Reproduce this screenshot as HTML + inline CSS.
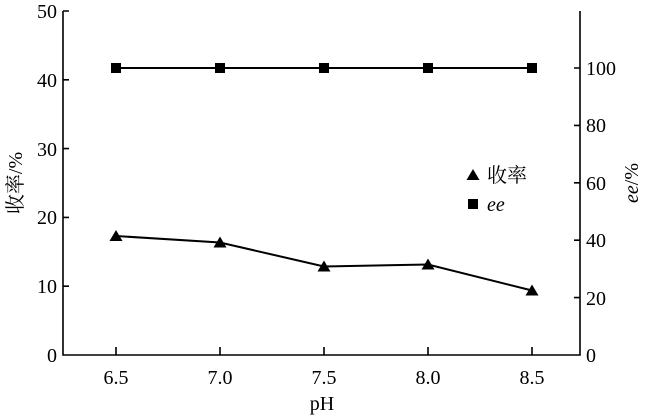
<!DOCTYPE html>
<html><head><meta charset="utf-8"><style>body{margin:0;background:#fff}svg text{font-family:"Liberation Serif","Noto Serif CJK SC",serif;font-size:20px}</style></head><body>
<svg width="650" height="415" xmlns="http://www.w3.org/2000/svg" fill="#000">
<rect width="650" height="415" fill="#fff"/>
<g stroke="#000" stroke-width="1.6" fill="none">
<polyline points="63,11 63,355 580,355 580,11"/>
<path d="M63,286.2h6M63,217.4h6M63,148.6h6M63,79.8h6M63,11h6"/>
<path d="M580,297.6h-6M580,240.2h-6M580,182.8h-6M580,125.4h-6M580,68h-6"/>
<path d="M116,355v-8M220,355v-8M324,355v-8M428,355v-8M532,355v-8"/>
<polyline stroke-width="2" points="116,68 220,68 324,68 428,68 532,68"/>
<polyline stroke-width="2" points="116,236 220,242.5 324,266.5 428,264.5 532,290.5"/>
</g>
<g>
<rect x="111" y="63" width="10" height="10"/><rect x="215" y="63" width="10" height="10"/><rect x="319" y="63" width="10" height="10"/><rect x="423" y="63" width="10" height="10"/><rect x="527" y="63" width="10" height="10"/>
<path d="M116,230l6.5,11h-13z"/><path d="M220,236.5l6.5,11h-13z"/><path d="M324,260.5l6.5,11h-13z"/><path d="M428,258.5l6.5,11h-13z"/><path d="M532,284.5l6.5,11h-13z"/>
<path d="M473,169l6.5,11h-13z"/><rect x="468" y="199" width="10" height="10"/>
</g>
<g text-anchor="end">
<text x="57" y="362">0</text><text x="57" y="293">10</text><text x="57" y="224">20</text><text x="57" y="156">30</text><text x="57" y="87">40</text><text x="57" y="18">50</text>
</g>
<g text-anchor="start">
<text x="586" y="362">0</text><text x="586" y="305">20</text><text x="586" y="247">40</text><text x="586" y="190">60</text><text x="586" y="132">80</text><text x="586" y="75">100</text>
</g>
<g text-anchor="middle">
<text x="116" y="384">6.5</text><text x="220" y="384">7.0</text><text x="324" y="384">7.5</text><text x="428" y="384">8.0</text><text x="532" y="384">8.5</text>
<text x="322" y="410">pH</text>
</g>
<text x="487" y="182">收率</text>
<text x="487" y="211" font-style="italic">ee</text>
<text transform="translate(22,183) rotate(-90)" text-anchor="middle">收率/%</text>
<text transform="translate(638,183) rotate(-90)" text-anchor="middle"><tspan font-style="italic">ee</tspan>/%</text>
</svg>
</body></html>
